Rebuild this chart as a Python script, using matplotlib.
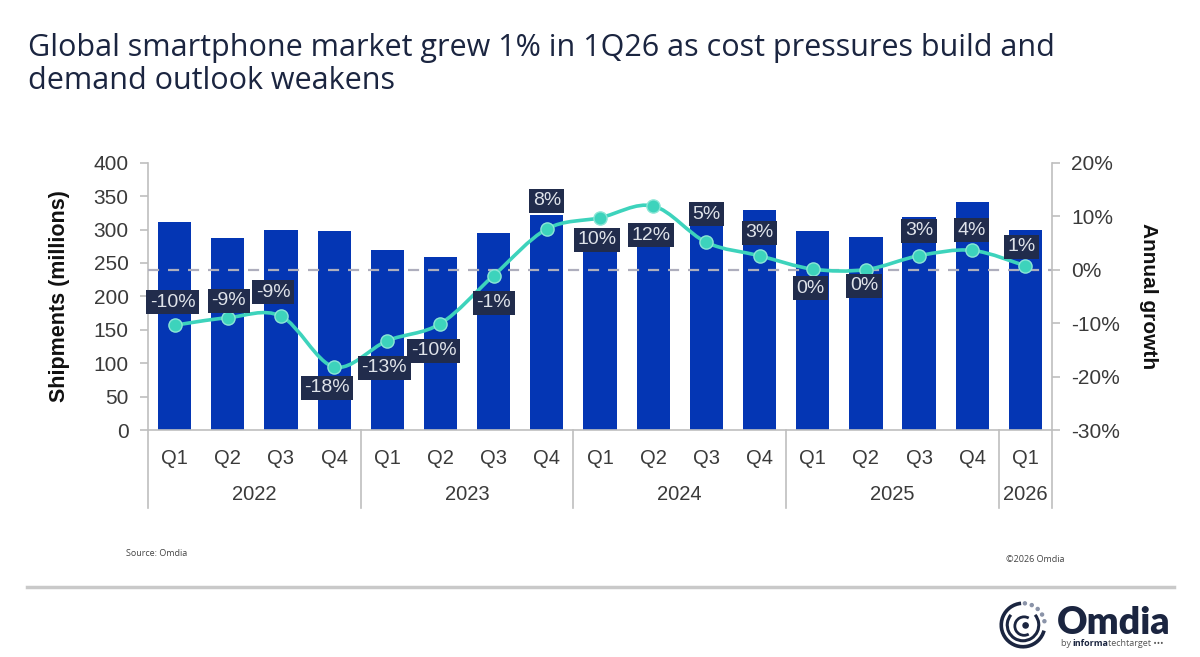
import numpy as np
import matplotlib
matplotlib.use("Agg")
import matplotlib.pyplot as plt
from matplotlib.path import Path
from matplotlib.patches import PathPatch, Arc, Circle
from matplotlib.transforms import blended_transform_factory

# DATA
quarters = ['Q1', 'Q2', 'Q3', 'Q4'] * 4 + ['Q1']
years = ['2022', '2023', '2024', '2025', '2026']
year_sizes = [4, 4, 4, 4, 1]
shipments = [312, 288, 299, 298, 270, 259, 295, 322, 298, 289,
             310, 329, 298, 289, 319, 341, 300]          # millions
growth = [-10.4, -9.0, -8.7, -18.2, -13.3, -10.1, -1.1, 7.6, 9.7, 11.9,
          5.1, 2.6, 0.1, 0.0, 2.6, 3.6, 0.7]            # annual growth, %

# label placement relative to each point (pixels)
label_offsets = [(-2, 23), (1, 17), (-8, 24), (-7, -21), (-3, -27), (-7, -27),
                 (0, -27), (0, 28), (-3, -22), (-2, -29), (0, 28), (0, 23),
                 (-2, -19), (-2, -16), (0, 25), (-1, 20), (-4, 19)]

# STYLE
BAR_COLOR = '#0436b4'
LINE_COLOR = '#3dd3bc'
BOX_COLOR = '#212c4c'
AXIS_GRAY = '#bfbfbf'
TEXT_GRAY = '#3a3a3a'
NAVY = '#1b2540'

plt.rcParams['font.family'] = ['Liberation Sans', 'DejaVu Sans']


def smooth_path(xs, ys):
    """Catmull-Rom style bezier path through the points (like Excel smoothing)."""
    pts = np.column_stack([xs, ys]).astype(float)
    padded = np.vstack([pts[0], pts, pts[-1]])
    verts = [pts[0]]
    codes = [Path.MOVETO]
    for i in range(len(pts) - 1):
        p0, p1, p2, p3 = padded[i], padded[i + 1], padded[i + 2], padded[i + 3]
        verts += [p1 + (p2 - p0) / 6, p2 - (p3 - p1) / 6, p2]
        codes += [Path.CURVE4] * 3
    return Path(verts, codes)


fig = plt.figure(figsize=(12, 6.57), dpi=100)
ax = fig.add_axes([148 / 1200, 1 - 430 / 657, 904 / 1200, 267.3 / 657])
ax2 = ax.twinx()

x = np.arange(len(shipments))

# bars
ax.bar(x, shipments, width=0.625, color=BAR_COLOR, zorder=2)
ax.set_xlim(-0.5, len(shipments) - 0.5)
ax.set_ylim(0, 400)
ax.set_yticks(np.arange(0, 401, 50))
ax.set_xticks(x)
ax.set_xticklabels(quarters, fontsize=14.5, color=TEXT_GRAY)
ax.tick_params(axis='x', length=0, pad=14)
ax.tick_params(axis='y', length=6, color=AXIS_GRAY, width=1.2,
               labelsize=15, labelcolor=TEXT_GRAY, pad=8)

for s in ['top', 'right']:
    ax.spines[s].set_visible(False)
for s in ['left', 'bottom']:
    ax.spines[s].set_color(AXIS_GRAY)
    ax.spines[s].set_linewidth(1.2)

ax.set_ylabel('Shipments (millions)', fontsize=15.5, fontweight='bold', color='#111111')
ax.yaxis.set_label_coords(-(148 - 70) / 904, 0.5)

# growth axis
ax2.set_ylim(-30, 20)
ax2.set_yticks(np.arange(-30, 21, 10))
ax2.set_yticklabels([f'{v}%' for v in range(-30, 21, 10)])
ax2.tick_params(axis='y', length=6, color=AXIS_GRAY, width=1.2,
                labelsize=15, labelcolor=TEXT_GRAY, pad=8)
for s in ['top', 'left', 'bottom']:
    ax2.spines[s].set_visible(False)
ax2.spines['right'].set_color(AXIS_GRAY)
ax2.spines['right'].set_linewidth(1.2)
ax2.set_ylabel('Annual growth', fontsize=15, fontweight='bold', color='#111111',
               rotation=270)
ax2.yaxis.set_label_coords((1158 - 148) / 904, 0.5)

# zero reference line
ax2.axhline(0, color='#aeaebd', lw=1.6, dashes=(5, 4), zorder=1)

# smoothed growth line + markers
ax2.add_patch(PathPatch(smooth_path(x, growth), fill=False, edgecolor=LINE_COLOR,
                        lw=2.6, zorder=3, capstyle='round'))
ax2.plot(x, growth, 'o', ls='none', ms=9.5, mfc=LINE_COLOR, mec='#8be6d6',
         mew=1.0, zorder=4)

# data labels
for xi, g, (dx, dy) in zip(x, growth, label_offsets):
    ax2.annotate(f'{round(g)}%', (xi, g), xytext=(dx, dy), textcoords='offset pixels',
                 ha='center', va='center', fontsize=14, color='#dfe3ea', zorder=5,
                 bbox=dict(boxstyle='square,pad=0.18', fc=BOX_COLOR, ec='none'))

# year grouping under the quarter labels
trans = blended_transform_factory(ax.transData, ax.transAxes)
edges = np.concatenate([[0], np.cumsum(year_sizes)]) - 0.5
for e in edges:
    ax.plot([e, e], [0, -0.292], transform=trans, color=AXIS_GRAY, lw=1.2,
            clip_on=False, zorder=1)
for yr, a, b in zip(years, edges[:-1], edges[1:]):
    ax.text((a + b) / 2, -0.243, yr, transform=trans, ha='center', va='center',
            fontsize=14.5, color=TEXT_GRAY)

# title
fig.text(28 / 1200, 1 - 56 / 657,
         'Global smartphone market grew 1% in 1Q26 as cost pressures build and',
         fontsize=22, color=NAVY, family='Open Sans', va='baseline')
fig.text(28 / 1200, 1 - 89 / 657, 'demand outlook weakens',
         fontsize=22, color=NAVY, family='Open Sans', va='baseline')

# footer
fig.text(126 / 1200, 1 - 553 / 657, 'Source: Omdia', fontsize=6.5, color='#444444',
         family='Open Sans', va='center')
fig.text(1064 / 1200, 1 - 559 / 657, '©2026 Omdia', fontsize=6.5, color='#444444',
         family='Open Sans', va='center', ha='right')
fig.add_artist(plt.Line2D([27 / 1200, 1174 / 1200], [1 - 587 / 657] * 2,
                          color='#c9c9c9', lw=2.5))

# Omdia logo
lax = fig.add_axes([998 / 1200, 1 - 650 / 657, 50 / 1200, 50 / 657])
lax.set_xlim(-1.15, 1.15)
lax.set_ylim(-1.15, 1.15)
lax.set_aspect('equal')
lax.axis('off')
lax.add_patch(Arc((0, 0), 2.0, 2.0, theta1=95, theta2=345, color=NAVY, lw=2.6))
lax.add_patch(Arc((0, 0), 1.45, 1.45, theta1=140, theta2=40, color=NAVY, lw=2.2))
lax.add_patch(Arc((0.05, -0.05), 0.85, 0.85, theta1=60, theta2=300, color=NAVY, lw=2.0))
lax.add_patch(Circle((0.12, -0.02), 0.12, color=NAVY))
for ang in np.linspace(10, 85, 5):
    r = np.deg2rad(ang)
    lax.add_patch(Circle((1.0 * np.cos(r), 1.0 * np.sin(r)), 0.07, color='#8a93a8'))
fig.text(1057 / 1200, 1 - 634 / 657, 'Omdia', fontsize=27, fontweight='heavy',
         color=NAVY, family='Lato', va='baseline')
fig.text(1061 / 1200, 1 - 646 / 657, 'by ', fontsize=6.5, color='#555555',
         family='Open Sans', va='baseline')
fig.text(1072 / 1200, 1 - 646 / 657, 'informa', fontsize=6.5, color=NAVY,
         family='Open Sans', fontweight='bold', va='baseline')
fig.text(1108 / 1200, 1 - 646 / 657, 'techtarget •••', fontsize=6.5, color='#555555',
         family='Open Sans', va='baseline')

fig.savefig('out.png', dpi=100)
